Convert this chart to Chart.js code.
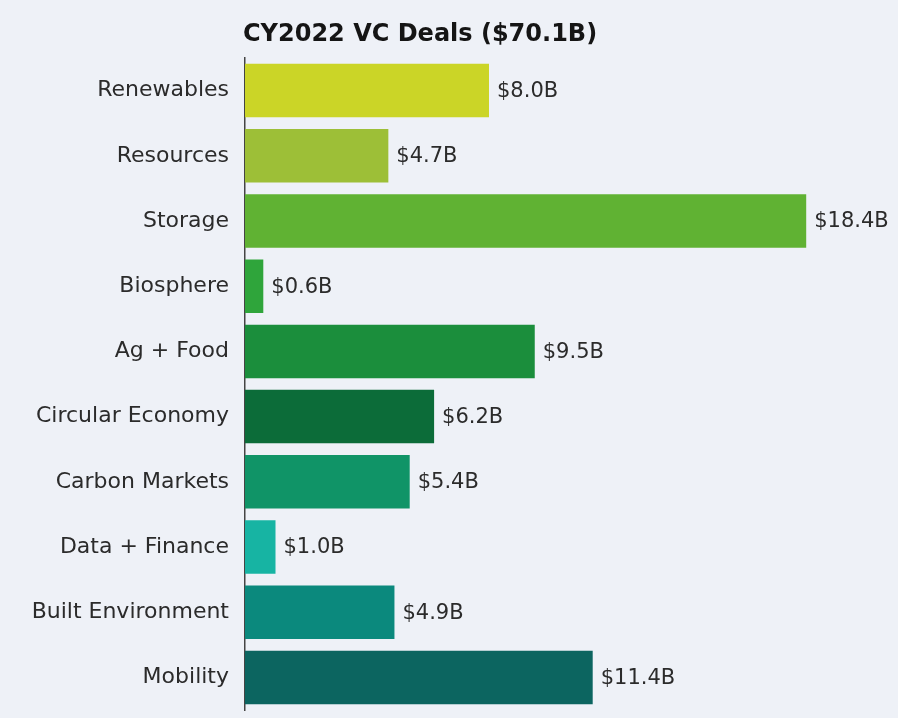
<!DOCTYPE html>
<html>
<head>
<meta charset="utf-8">
<script src="https://cdn.jsdelivr.net/npm/chart.js@4/dist/chart.umd.min.js"></script>
<style>
  html, body { margin: 0; padding: 0; background: #eef1f7; }
  #wrap { width: 898px; height: 718px; }
</style>
</head>
<body>
<div id="wrap"><canvas id="my-chart" width="898" height="718"></canvas></div>
<script>
const titleText = 'CY2022 VC Deals ($70.1B)';
const categories = ['Renewables', 'Resources', 'Storage', 'Biosphere', 'Ag + Food', 'Circular Economy', 'Carbon Markets', 'Data + Finance', 'Built Environment', 'Mobility'];
const dealValues = [8.0, 4.7, 18.4, 0.6, 9.5, 6.2, 5.4, 1.0, 4.9, 11.4];
const barColors = ['#cbd527', '#9dbf37', '#60b233', '#2fa53b', '#1b8e3c', '#0c6c39', '#109467', '#17b4a3', '#0b897d', '#0c6560'];

const fontFamily = '"DejaVu Sans", sans-serif';

// draws the title and the "$x.xB" labels at the end of each bar
const labelPlugin = {
  id: 'barLabels',
  afterDatasetsDraw(chart) {
    const ctx = chart.ctx;
    const meta = chart.getDatasetMeta(0);
    ctx.save();
    ctx.fillStyle = '#2b2b2b';
    ctx.font = `21px ${fontFamily}`;
    ctx.textAlign = 'left';
    ctx.textBaseline = 'middle';
    meta.data.forEach((bar, i) => {
      ctx.fillText(`$${dealValues[i].toFixed(1)}B`, bar.x + 8, bar.y + 1);
    });
    ctx.fillStyle = '#151515';
    ctx.font = `bold 24px ${fontFamily}`;
    ctx.fillText(titleText, chart.chartArea.left - 2, 35);
    ctx.restore();
  },
};

const ctx = document.getElementById('my-chart').getContext('2d');

new Chart(ctx, {
  type: 'bar',
  data: {
    labels: categories,
    datasets: [
      {
        data: dealValues,
        backgroundColor: barColors,
        barPercentage: 0.82,
        categoryPercentage: 1,
      },
    ],
  },
  options: {
    responsive: false,
    animation: false,
    indexAxis: 'y',
    layout: {
      padding: { top: 58, bottom: 8, right: 43, left: 0 },
    },
    plugins: {
      legend: { display: false },
      tooltip: { enabled: false },
    },
    scales: {
      x: {
        display: false,
        min: 0,
        max: 20,
      },
      y: {
        afterFit(scale) {
          scale.width = 245;
          // tick padding would otherwise eat into the bottom of the plot
          scale.paddingTop = 0;
          scale.paddingBottom = 0;
        },
        grid: { display: false, drawTicks: false },
        border: { display: true, color: '#444', width: 1.5 },
        ticks: {
          color: '#2b2b2b',
          padding: 16,
          font: { family: fontFamily, size: 22 },
        },
      },
    },
  },
  plugins: [labelPlugin],
});
</script>
</body>
</html>
